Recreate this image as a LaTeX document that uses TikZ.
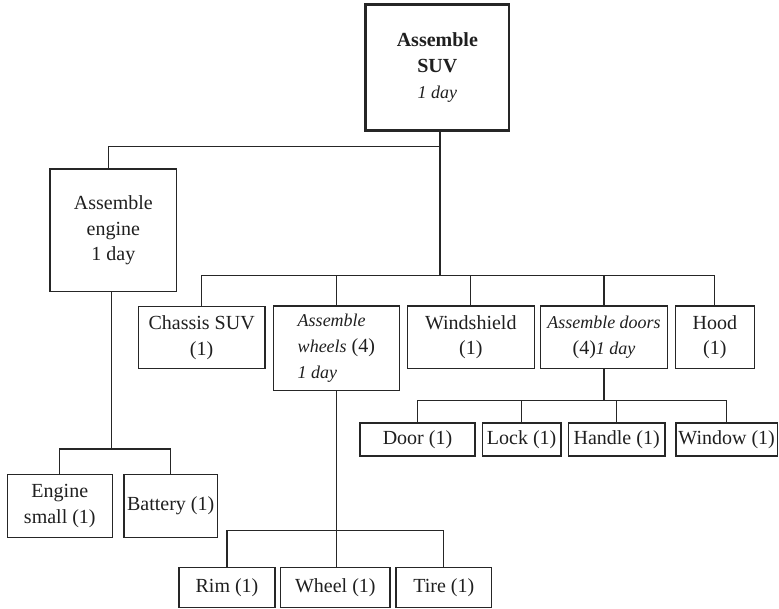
\documentclass[tikz,border=0pt]{standalone}
\usepackage{fontspec}
\setmainfont{Liberation Serif}
% italic parts are set a little smaller, as in the printed chart
\newcommand\ital[1]{{\fontsize{18}{25.7}\selectfont\itshape #1}}
% box from corner (x1,y1) to corner (x2,y2)
\newcommand\boxnode[7][box]{%
  \node[#1, minimum width={(#5-#3)*1pt}, minimum height={(#6-#4)*1pt}]
    (#2) at ({(#3+#5)/2},{(#4+#6)/2}) {#7};}
\begin{document}
\begin{tikzpicture}[x=1pt,y=-1pt,
  box/.style={draw=black!85, line width=1.2pt, inner sep=0pt, outer sep=0pt,
    align=center, text=black!88, font=\fontsize{20}{25.7}\selectfont},
  rootbox/.style={box, line width=2.6pt},
  wire/.style={draw=black!85, line width=1.2pt}]
\useasboundingbox (0,0) rectangle (779,609);

% top level
\boxnode[rootbox]{root}{365.7}{4.7}{509}{130.7}{\textbf{Assemble}\\\textbf{SUV}\\\ital{1 day}}
\boxnode{engine}{50}{169}{176.7}{291.7}{Assemble\\engine\\1 day}

% second level
\boxnode{chassis}{138.3}{306.5}{265}{368.3}{Chassis SUV\\(1)}
\boxnode[box,align=left]{wheels}{273.3}{306}{399.5}{390.7}{\ital{Assemble}\\\ital{wheels} (4)\\\ital{1 day}}
\boxnode{wind}{407.3}{306}{534.3}{368.3}{Windshield\\(1)}
\boxnode{doors}{540.7}{306}{667.3}{368.3}{\ital{Assemble doors}\\(4)\ital{1 day}}
\boxnode{hood}{675.3}{306}{754.3}{368.3}{Hood\\(1)}

% engine parts
\boxnode{esmall}{7.3}{474.3}{112.3}{537.3}{Engine\\small (1)}
\boxnode{battery}{124}{474.3}{217.3}{537.3}{Battery (1)}

% door parts
\boxnode{door}{360}{423}{475}{456}{Door (1)}
\boxnode{lock}{482.3}{423}{561}{456}{Lock (1)}
\boxnode{handle}{568.3}{423}{665}{456}{Handle (1)}
\boxnode{window}{676}{423}{777.3}{456}{Window (1)}

% wheel parts
\boxnode{rim}{179}{567.7}{275}{607.3}{Rim (1)}
\boxnode{wheel}{280.7}{567.7}{390}{607.3}{Wheel (1)}
\boxnode{tire}{396}{567.7}{491.7}{607.3}{Tire (1)}

% junctions of the bus lines
\coordinate (jr) at (440,146.7);
\coordinate (jm) at (440,275.7);
\coordinate (je) at (111.7,449);
\coordinate (jd) at (604,400.7);
\coordinate (jw) at (336.7,530.7);

% root branches
\draw[wire] (root.south -| jr) -- (jm);
\draw[wire] (jr) -| ([xshift=-5]engine.north);
\draw[wire] (chassis.north) |- (jm) -| (hood.north);
\draw[wire] (wheels.north) -- (wheels.north |- jm);
\draw[wire] (wind.north) -- (wind.north |- jm);
\draw[wire] (doors.north) -- (doors.north |- jm);

% engine branches
\draw[wire] (engine.south -| je) -- (je);
\draw[wire] (esmall.north) |- (je) -| (battery.north);

% door branches
\draw[wire] (doors.south) -- (jd);
\draw[wire] (door.north) |- (jd) -| (window.north);
\draw[wire] (lock.north) -- (lock.north |- jd);
\draw[wire] (handle.north) -- (handle.north |- jd);

% wheel branches
\draw[wire] (wheels.south -| jw) -- (wheel.north -| jw);
\draw[wire] (rim.north) |- (jw) -| (tire.north);
\end{tikzpicture}
\end{document}
